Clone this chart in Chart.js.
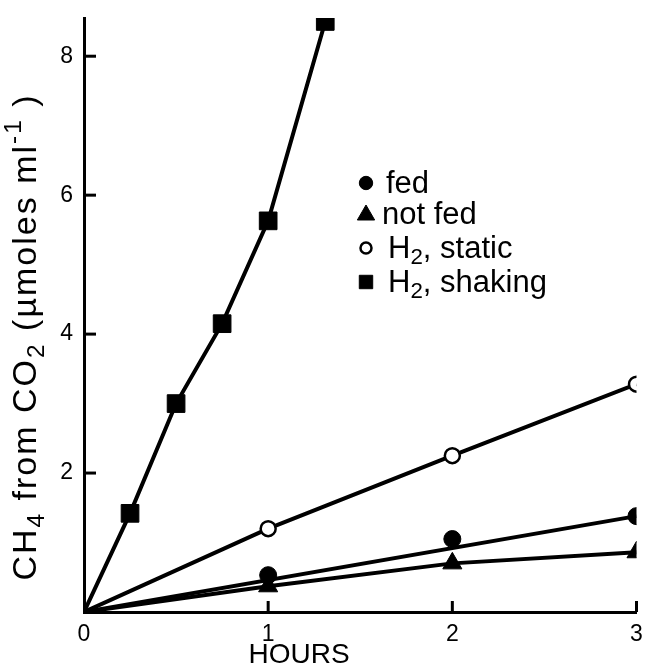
<!DOCTYPE html>
<html>
<head>
<meta charset="utf-8">
<script src="https://cdn.jsdelivr.net/npm/chart.js@4.4.1/dist/chart.umd.min.js"></script>
<style>
  html, body { margin: 0; padding: 0; background: #fff; }
</style>
</head>
<body>
<canvas id="chart" width="650" height="670"></canvas>
<script>
// values
const hours = [0, 1, 2, 3];
const fedValues = [0, 0.53, 1.05, 1.38];
const notFedValues = [0, 0.37, 0.70, 0.86];
const staticValues = [0, 1.20, 2.25, 3.28];
const shakingHours = [0, 0.25, 0.5, 0.75, 1.0, 1.31];
const shakingValues = [0, 1.42, 3.0, 4.15, 5.63, 8.5];
// fed is drawn as a straight fitted line
const fedFitHours = [0, 3];
const fedFitValues = [0, 1.38];
const xTicks = [0, 1, 2, 3];
const yTicks = [0, 2, 4, 6, 8];

const FONT = "'Liberation Sans', Arial, Helvetica, sans-serif";
const BLACK = "#000";

const toXY = (xs, ys) => xs.map((x, i) => ({ x: x, y: ys[i] }));
const noOrigin = (r) => (ctx) => (ctx.dataIndex === 0 ? 0 : r);

// draws text parts with sub/superscripts, left aligned at x
function drawParts(ctx, parts, x, y, size) {
  let cx = x;
  for (const p of parts) {
    const small = p.k === "sub" || p.k === "sup";
    const s = small ? size * 0.72 : size;
    ctx.font = s + "px " + FONT;
    let dy = 0;
    if (p.k === "sub") dy = size * 0.3;
    if (p.k === "sup") dy = -size * 0.38;
    ctx.fillText(p.t, cx, y + dy);
    cx += ctx.measureText(p.t).width;
  }
  return cx - x;
}
function measureParts(ctx, parts, size) {
  let w = 0;
  for (const p of parts) {
    const small = p.k === "sub" || p.k === "sup";
    ctx.font = (small ? size * 0.72 : size) + "px " + FONT;
    w += ctx.measureText(p.t).width;
  }
  return w;
}

const innerTicks = {
  id: "innerTicks",
  beforeDatasetsDraw(chart) {
    const ctx = chart.ctx;
    const xs = chart.scales.x, ys = chart.scales.y;
    const area = chart.chartArea;
    ctx.save();
    ctx.strokeStyle = BLACK;
    ctx.lineWidth = 3;
    yTicks.slice(1).forEach((v) => {
      const py = ys.getPixelForValue(v);
      ctx.beginPath();
      ctx.moveTo(area.left, py);
      ctx.lineTo(area.left + 12, py);
      ctx.stroke();
    });
    xTicks.slice(1).forEach((v) => {
      const px = xs.getPixelForValue(v);
      ctx.beginPath();
      ctx.moveTo(px, area.bottom);
      ctx.lineTo(px, area.bottom - 11);
      ctx.stroke();
    });
    ctx.restore();
  }
};

const axisTitles = {
  id: "axisTitles",
  afterDraw(chart) {
    const ctx = chart.ctx;
    const parts = [
      { t: "CH" }, { t: "4", k: "sub" }, { t: " from CO" }, { t: "2", k: "sub" },
      { t: " (\u00b5moles ml" }, { t: "-1", k: "sup" }, { t: " )" }
    ];
    const size = 34;
    ctx.save();
    ctx.fillStyle = BLACK;
    ctx.textBaseline = "middle";
    ctx.letterSpacing = "2px";
    ctx.save();
    ctx.translate(27, 337);
    ctx.rotate(-Math.PI / 2);
    const w = measureParts(ctx, parts, size);
    drawParts(ctx, parts, -w / 2, 0, size);
    ctx.restore();
    ctx.letterSpacing = "0px";
    ctx.font = "28px " + FONT;
    ctx.textAlign = "center";
    ctx.fillText("HOURS", 299, 655);
    ctx.restore();
  }
};

const legendEntries = [
  { style: "circle", r: 6.7, fill: true, parts: [{ t: "fed" }], y: 183, tx: 386 },
  { style: "triangle", r: 10, fill: true, parts: [{ t: "not fed" }], y: 214, tx: 382 },
  { style: "circle", r: 5.5, fill: false, parts: [{ t: "H" }, { t: "2", k: "sub" }, { t: ", static" }], y: 248, tx: 388 },
  { style: "rect", r: 9.5, fill: true, parts: [{ t: "H" }, { t: "2", k: "sub" }, { t: ", shaking" }], y: 282, tx: 388 }
];

const boxLegend = {
  id: "boxLegend",
  afterDraw(chart) {
    const ctx = chart.ctx;
    ctx.save();
    legendEntries.forEach((e) => {
      ctx.fillStyle = e.fill ? BLACK : "#fff";
      ctx.strokeStyle = BLACK;
      ctx.lineWidth = e.fill ? 1 : 2.5;
      Chart.helpers.drawPoint(ctx, { pointStyle: e.style, radius: e.r, borderWidth: ctx.lineWidth, rotation: 0 }, 366, e.style === "triangle" ? e.y + 1 : e.y);
      ctx.fillStyle = BLACK;
      ctx.textBaseline = "middle";
      drawParts(ctx, e.parts, e.tx, e.y + 1, 31);
    });
    ctx.restore();
  }
};

const datasets = [
  {
    label: "H2, shaking",
    data: toXY(shakingHours, shakingValues),
    borderColor: BLACK,
    backgroundColor: BLACK,
    borderWidth: 4,
    pointStyle: "rect",
    pointRadius: noOrigin(12.5),
    pointBorderWidth: 1,
    order: 3
  },
  {
    label: "H2, static",
    data: toXY(hours, staticValues),
    borderColor: BLACK,
    backgroundColor: "#fff",
    borderWidth: 4,
    pointStyle: "circle",
    pointRadius: noOrigin(7.5),
    pointBorderWidth: 2.5,
    order: 2
  },
  {
    label: "fed (line)",
    data: toXY(fedFitHours, fedFitValues),
    borderColor: BLACK,
    borderWidth: 4,
    pointRadius: 0,
    order: 4
  },
  {
    label: "fed",
    data: toXY(hours, fedValues),
    showLine: false,
    borderColor: BLACK,
    backgroundColor: BLACK,
    pointStyle: "circle",
    pointRadius: noOrigin(8.5),
    pointBorderWidth: 1,
    order: 0
  },
  {
    label: "not fed",
    data: toXY(hours, notFedValues),
    borderColor: BLACK,
    backgroundColor: BLACK,
    borderWidth: 4,
    pointStyle: "triangle",
    pointRadius: noOrigin(11),
    pointBorderWidth: 1,
    order: 1
  }
];

new Chart(document.getElementById("chart").getContext("2d"), {
  type: "line",
  data: { datasets: datasets },
  options: {
    responsive: false,
    animation: false,
    devicePixelRatio: 1,
    layout: { padding: { left: 10, right: 10, top: 18, bottom: 0 } },
    elements: { line: { tension: 0 } },
    plugins: {
      legend: { display: false },
      tooltip: { enabled: false }
    },
    scales: {
      x: {
        type: "linear",
        min: 0,
        max: 3,
        afterBuildTicks: (s) => { s.ticks = xTicks.map((v) => ({ value: v })); },
        afterFit: (s) => { s.height = 58; },
        grid: { display: false },
        border: { display: true, color: BLACK, width: 3 },
        ticks: { color: BLACK, font: { family: FONT, size: 23 }, padding: 1, maxRotation: 0 }
      },
      y: {
        type: "linear",
        min: 0,
        max: 8.55,
        afterBuildTicks: (s) => { s.ticks = yTicks.map((v) => ({ value: v })); },
        afterFit: (s) => { s.width = 74; },
        grid: { display: false },
        border: { display: true, color: BLACK, width: 3 },
        ticks: {
          color: BLACK,
          font: { family: FONT, size: 23 },
          padding: 3,
          callback: (v) => (v === 0 ? "" : v)
        }
      }
    }
  },
  plugins: [innerTicks, axisTitles, boxLegend]
});
</script>
</body>
</html>
